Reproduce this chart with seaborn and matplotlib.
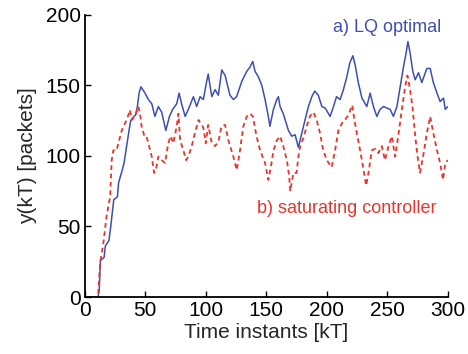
import matplotlib
matplotlib.use("Agg")
import matplotlib.pyplot as plt
import seaborn as sns
import pandas as pd

# LQ optimal controller response
lq_t = [0, 11, 12, 13, 16, 17, 20, 21.5, 24, 27, 28, 31, 32.5, 35, 36.6, 38, 40.7, 42, 43.5,
        45, 46.5, 49.8, 52.6, 55.4, 58, 60.8, 63.6, 67, 70, 72.7, 76, 78, 80, 83, 85.6,
        89.8, 92.5, 95.3, 98, 100.8, 102, 105, 107.7, 110.4, 113.2, 116, 120, 122.8,
        125.5, 129.8, 133.9, 136.6, 138.8, 140.7, 143.5, 146.3, 149, 151.7, 153, 155.9,
        158.7, 160, 161.4, 164, 168.3, 171, 173.8, 176.5, 179.3, 182, 184.8, 187.6, 190,
        193, 195.9, 198.6, 202.7, 205.5, 208, 211, 213.7, 216.5, 219, 221.5, 223.4, 226,
        229, 233, 235.8, 238.5, 241.3, 244, 246.8, 249.6, 252.3, 255, 257.9, 260.6, 263.3,
        265.5, 267, 268.8, 271, 273, 275.7, 278.5, 282.6, 285.4, 288, 291, 293.6, 296.4,
        297.8, 300]
lq_y = [0, 0, 5, 26, 28, 36, 40, 50, 69, 71, 81, 90, 95, 109, 118, 125, 128, 129, 135,
        145, 149, 144.5, 140, 137, 128, 135, 131, 118, 128, 133, 137, 144.5, 137, 128, 133,
        142, 135, 142, 140, 153, 158, 142, 147, 143, 161, 157, 143, 140,
        142, 153, 160, 163, 167, 160, 156, 150, 140, 128, 121, 133,
        140, 142, 135, 130, 118, 114, 115, 106, 116, 125.5, 135, 142, 146,
        143, 135, 134, 128, 135, 142, 140, 147, 156, 166, 171, 164.5, 152,
        141, 135, 144.5, 135, 128, 133, 135, 134, 133, 128, 135, 149, 163,
        173, 181, 173, 160, 154, 159, 152, 162, 162, 152, 144.5, 138.5, 141,
        133, 135]

# saturating controller response
sat_t = [0, 11, 12.7, 15.4, 18, 21, 22.3, 23.6, 26.4, 27.8, 30.6, 32, 34.7, 37.4, 38.8,
         41.6, 44.3, 45.7, 47, 49.3, 51, 52.6, 55.4, 57.3, 59, 60.8, 63.6, 66.4, 69, 71,
         73.2, 76, 77.4, 78.8, 81.5, 83.7, 85.6, 88.4, 91, 94, 96.7, 98, 100, 102, 105,
         107.7, 110.4, 113, 116, 118.7, 122.8, 125.6, 128.3, 131, 133.9, 136.6, 139, 141.9,
         144.9, 149, 151.7, 153.7, 156, 158.7, 161.4, 164, 167, 169, 169.7, 172.4, 175,
         176.5, 178, 180.6, 183.4, 186, 188.9, 191.6, 194.4, 197, 200, 204, 206.8, 209.6,
         212.4, 215, 217.8, 221, 222.8, 224.8, 227.5, 230, 232.5, 234.4, 237.2, 240, 242.6,
         245.4, 248, 251, 253.7, 256.4, 259, 262, 264.7, 266.6, 268.8, 271, 273, 275, 277,
         280, 282.6, 285.4, 288, 291, 293.6, 296, 297.8, 300]
sat_y = [0, 0, 24, 38, 57, 71, 97, 104, 104, 109, 118, 121, 125.5, 132.6, 125.5,
         128, 135, 130, 121, 114, 114, 109, 99.5, 88, 91, 99.5, 97, 95, 109, 114,
         109, 121, 130, 111, 104, 97, 99.5, 107, 116, 125.5, 122, 120, 109, 122, 109,
         107, 110, 121, 122, 111, 99.5, 90, 104, 121, 128, 130, 128, 114,
         104, 95, 83, 92, 104, 111, 114, 107, 97, 85, 75, 88, 88,
         99.5, 107, 112.5, 121, 128, 131, 125.5, 116, 104, 97, 92, 104, 118,
         123, 125.5, 129, 136, 125.5, 116, 104, 92, 79, 88, 104, 105, 102,
         107, 97, 107, 114, 99.5, 114, 133, 149, 157, 147, 133, 114, 99.5, 88,
         102, 116, 128, 116, 104, 95, 83, 95, 97]

x_ticks = [0, 50, 100, 150, 200, 250, 300]
y_ticks = [0, 50, 100, 150, 200]

BLUE = "#3d4fb3"
RED = "#e8342c"

sns.set_theme(style="ticks")
plt.rcParams["font.family"] = ["Liberation Sans", "DejaVu Sans"]

fig = plt.figure(figsize=(4.68, 3.54), dpi=100)
ax = fig.add_axes([0.181, 0.161, 0.776, 0.797])

lq = pd.DataFrame({"t": lq_t, "y": lq_y})
sat = pd.DataFrame({"t": sat_t, "y": sat_y})

sns.lineplot(data=lq, x="t", y="y", ax=ax, color=BLUE, linewidth=1.1,
             estimator=None, sort=False)
sns.lineplot(data=sat, x="t", y="y", ax=ax, color=RED, linewidth=1.3,
             estimator=None, sort=False, dashes=False)
ax.lines[-1].set_dashes([2.6, 2.0])

ax.set_xlim(0, 300)
ax.set_ylim(0, 200)
ax.set_xticks(x_ticks)
ax.set_yticks(y_ticks)
ax.tick_params(direction="in", length=4, width=1.0, labelsize=15, pad=3,
               colors="black")
for side in ("top", "right"):
    ax.spines[side].set_visible(False)
for side in ("left", "bottom"):
    ax.spines[side].set_linewidth(1.3)
    ax.spines[side].set_color("black")

ax.set_xlabel("Time instants [kT]", fontsize=15, labelpad=2)
ax.set_ylabel("y(kT) [packets]", fontsize=15, labelpad=6)

ax.text(205, 191, "a) LQ optimal", color=BLUE, fontsize=13, va="center", ha="left")
ax.text(142, 63, "b) saturating controller", color=RED, fontsize=13,
        va="center", ha="left")

fig.savefig("out.png", dpi=100)
